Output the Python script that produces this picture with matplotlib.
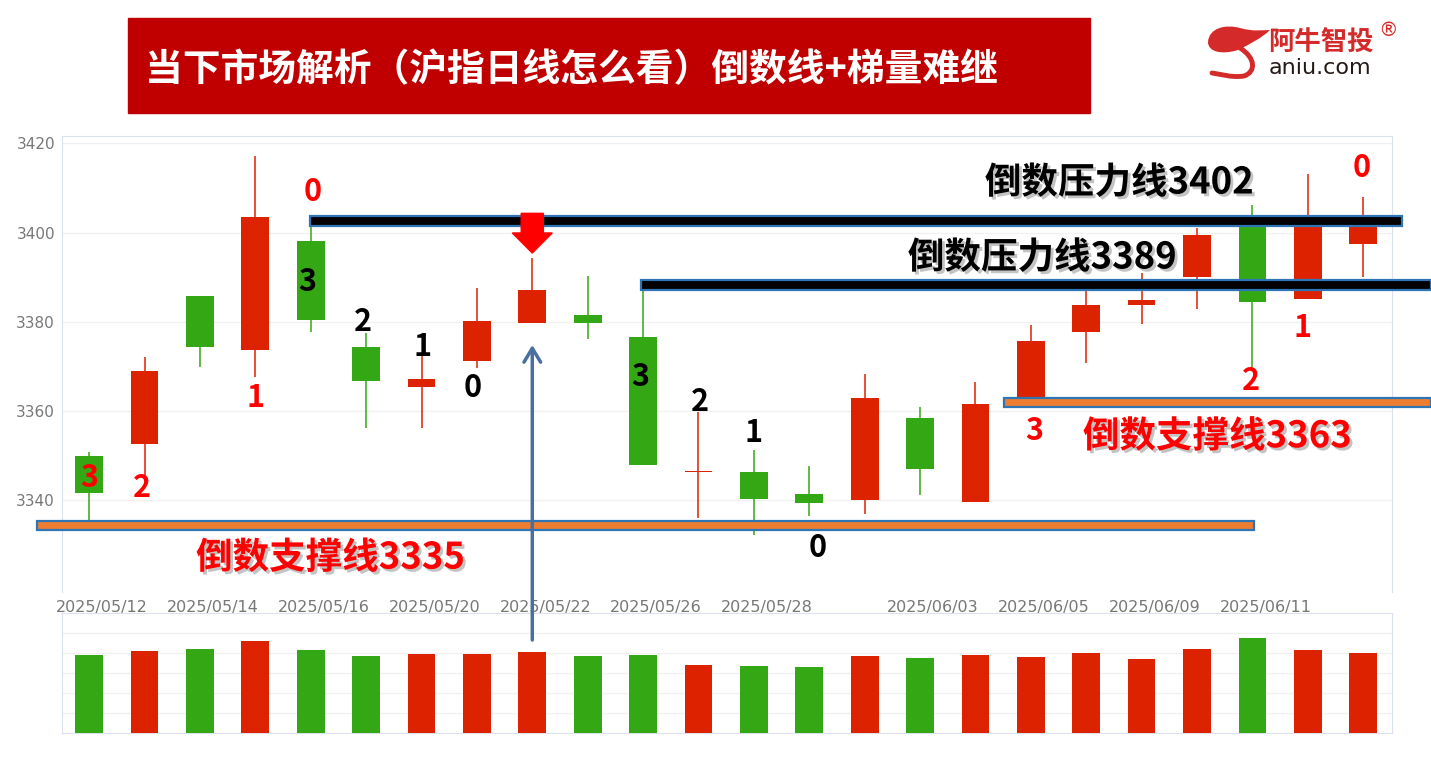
import matplotlib
matplotlib.use("Agg")
import matplotlib.pyplot as plt
import matplotlib.patheffects as pe
import matplotlib.transforms as mtransforms
from matplotlib.patches import Rectangle, ConnectionPatch
from matplotlib.path import Path
from matplotlib.patches import PathPatch

plt.rcParams['font.family'] = ['Noto Sans CJK SC', 'DejaVu Sans']

# daily candles (Shanghai index)
dates = ['2025/05/12', '2025/05/13', '2025/05/14', '2025/05/15', '2025/05/16',
         '2025/05/19', '2025/05/20', '2025/05/21', '2025/05/22', '2025/05/23',
         '2025/05/26', '2025/05/27', '2025/05/28', '2025/05/29', '2025/05/30',
         '2025/06/03', '2025/06/04', '2025/06/05', '2025/06/06', '2025/06/09',
         '2025/06/10', '2025/06/11', '2025/06/12', '2025/06/13']
opens = [3349.9, 3352.5, 3385.8, 3373.7, 3398.0, 3374.4, 3365.3, 3371.3, 3379.8, 3381.4,
         3376.6, 3346.2, 3346.2, 3341.4, 3340.0, 3358.4, 3339.5, 3363.0, 3377.8, 3383.7,
         3390.0, 3401.5, 3385.0, 3397.5]
closes = [3341.6, 3368.9, 3374.3, 3403.5, 3380.4, 3366.8, 3367.2, 3380.1, 3387.1, 3379.8,
          3347.9, 3346.5, 3340.2, 3339.3, 3363.0, 3346.9, 3361.5, 3375.7, 3383.8, 3384.8,
          3399.4, 3384.4, 3401.5, 3401.2]
highs = [3350.9, 3372.0, 3385.8, 3417.2, 3401.5, 3377.5, 3373.0, 3387.5, 3394.2, 3390.2,
         3388.6, 3359.8, 3351.2, 3347.6, 3368.3, 3360.9, 3366.5, 3379.3, 3388.0, 3391.0,
         3401.0, 3406.2, 3413.1, 3407.9]
lows = [3335.5, 3345.2, 3369.9, 3367.7, 3377.8, 3356.2, 3356.2, 3369.7, 3379.8, 3376.1,
        3347.9, 3336.0, 3332.1, 3336.4, 3337.0, 3341.2, 3339.5, 3363.0, 3370.8, 3379.6,
        3382.8, 3369.2, 3385.0, 3390.0]
volumes = [78, 82, 84, 92, 83, 77, 79, 79, 81, 77, 78, 68, 67, 66, 77, 75, 78, 76, 80, 74,
           84, 95, 83, 80]

shown_dates = ['2025/05/12', '2025/05/14', '2025/05/16', '2025/05/20', '2025/05/22',
               '2025/05/26', '2025/05/28', '2025/06/03', '2025/06/05', '2025/06/09',
               '2025/06/11']

# countdown numbers written on the chart
count_idx = [0.0, 0.96, 3.01, 4.04, 3.93, 4.95, 6.01, 6.93, 9.95, 11.02, 11.99, 13.16,
             17.06, 20.97, 21.91, 22.98]
count_val = [3345.0, 3342.7, 3362.9, 3409.0, 3389.0, 3380.0, 3374.4, 3365.1, 3367.6,
             3362.1, 3355.0, 3329.3, 3355.5, 3366.6, 3378.6, 3414.5]
count_txt = ['3', '2', '1', '0', '3', '2', '1', '0', '3', '2', '1', '0', '3', '2', '1', '0']
count_col = ['red'] * 4 + ['black'] * 8 + ['red'] * 4

# countdown pressure / support lines
line_levels = [3402.5, 3388.3, 3334.3, 3361.9]
line_start = [3.99, 9.96, -0.94, 16.52]
line_end = [23.70, 24.23, 21.03, 24.23]
line_face = ['black', 'black', '#ed7d31', '#ed7d31']
line_text = ['倒数压力线3402', '倒数压力线3389', '倒数支撑线3335', '倒数支撑线3363']
text_x = [16.17, 14.78, 1.93, 17.94]
text_y = [3411.1, 3394.3, 3327.0, 3354.2]
text_col = ['black', 'black', '#ff0000', '#ff0000']

RED = '#dd2200'
GREEN = '#34a814'
W, H = 1431, 759

fig = plt.figure(figsize=(14.31, 7.59), dpi=100)
ax = fig.add_axes([62 / W, 1 - 592 / H, 1330 / W, 456 / H])
axv = fig.add_axes([62 / W, 1 - 733 / H, 1330 / W, 120 / H])

n = len(opens)
colors = [RED if c >= o else GREEN for o, c in zip(opens, closes)]
for i in range(n):
    ax.vlines(i, lows[i], highs[i], color=colors[i], lw=1.1, zorder=2)
    body = max(abs(closes[i] - opens[i]), 0.35)
    ax.bar(i, body, bottom=min(opens[i], closes[i]), width=0.5, color=colors[i], zorder=3)
axv.bar(range(n), volumes, width=0.5, color=colors, zorder=3)

for a in (ax, axv):
    a.set_xlim(-0.49, 23.52)
    for s in a.spines.values():
        s.set_color('#dbe2ee')
    a.tick_params(length=0)
    a.grid(axis='y', color='#f1f1f1', lw=1)
    a.set_axisbelow(True)

ax.set_ylim(3319.4, 3421.64)
ax.set_yticks([3340, 3360, 3380, 3400, 3420])
ax.tick_params(axis='y', labelsize=11, labelcolor='#777777', pad=5)
for lab in ax.get_yticklabels():
    lab.set_fontfamily('DejaVu Sans')
ax.spines['bottom'].set_visible(False)
ax.set_xticks([dates.index(d) for d in shown_dates])
ax.set_xticklabels(shown_dates, fontsize=11.5, color='#777777', fontfamily='DejaVu Sans')
ax.tick_params(axis='x', pad=6)
shift = mtransforms.ScaledTranslation(13 / 100, 0, fig.dpi_scale_trans)
for lab in ax.get_xticklabels():
    lab.set_transform(lab.get_transform() + shift)

axv.set_ylim(0, 120)
axv.set_yticks([20, 40, 60, 80, 100])
axv.set_yticklabels([])
axv.set_xticks([])

# pressure / support bars
for lv, x0, x1, fc in zip(line_levels, line_start, line_end, line_face):
    ax.add_patch(Rectangle((x0, lv - 1.1), x1 - x0, 2.2, facecolor=fc, edgecolor='#2e75b6',
                           lw=1.6, clip_on=False, zorder=6))

shadow = [pe.SimplePatchShadow(offset=(2, -2), shadow_rgbFace='#888888', alpha=0.5), pe.Normal()]
for t, x, y, c in zip(line_text, text_x, text_y, text_col):
    ax.text(x, y, t, fontsize=26.3, fontweight='bold', color=c, ha='left', va='center',
            zorder=8, path_effects=shadow)

for x, y, t, c in zip(count_idx, count_val, count_txt, count_col):
    ax.text(x, y, t, fontsize=22, fontweight='bold', color='#ff0000' if c == 'red' else 'black',
            ha='center', va='center', zorder=8)

# red down arrow over the 05/22 candle
ax.arrow(8, 3404.3, 0, -8.9, width=0.4, head_width=0.72, head_length=4.5,
         length_includes_head=True, color='#ff0000', zorder=7, clip_on=False)

# blue up arrow from the volume bar
con = ConnectionPatch(xyA=(8, 93), coordsA=axv.transData, xyB=(8, 3374.8), coordsB=ax.transData,
                      arrowstyle='->,head_length=0.5,head_width=0.3', color='#4a6f9e', lw=2.5,
                      mutation_scale=20, zorder=9)
fig.add_artist(con)

# title banner
fig.add_artist(Rectangle((128 / W, 1 - 113 / H), 962 / W, 95 / H, transform=fig.transFigure,
                         color='#c00000', zorder=1))
fig.text(145 / W, 1 - 70 / H, '当下市场解析（沪指日线怎么看）倒数线+梯量难继', color='white',
         fontsize=27.2, fontweight='bold', ha='left', va='center', zorder=2)

# logo
def fp(x, y):
    return (x / W, 1 - y / H)

blob = Path([fp(1208, 42), fp(1209, 28), fp(1225, 24), fp(1240, 28), fp(1255, 32), fp(1262, 30),
             fp(1270, 30), fp(1262, 38), fp(1250, 44), fp(1238, 50), fp(1222, 55), fp(1208, 52),
             fp(1208, 42)],
            [Path.MOVETO, Path.CURVE4, Path.CURVE4, Path.CURVE4, Path.CURVE4, Path.CURVE4,
             Path.LINETO, Path.CURVE4, Path.CURVE4, Path.CURVE4, Path.CURVE4, Path.CURVE4,
             Path.CURVE4])
fig.add_artist(PathPatch(blob, transform=fig.transFigure, color='#d42a2a', lw=0))
tail = Path([fp(1240, 48), fp(1256, 58), fp(1256, 72), fp(1244, 76), fp(1232, 78), fp(1220, 74),
             fp(1212, 73)],
            [Path.MOVETO, Path.CURVE4, Path.CURVE4, Path.CURVE4, Path.CURVE4, Path.CURVE4,
             Path.CURVE4])
fig.add_artist(PathPatch(tail, transform=fig.transFigure, facecolor='none', edgecolor='#d42a2a',
                         lw=3.5, capstyle='round'))
fig.text(1268 / W, 1 - 43 / H, '阿牛智投', color='#d42a2a', fontsize=19, fontweight='bold',
         ha='left', va='center')
fig.text(1388 / W, 1 - 31 / H, '®', color='#d42a2a', fontsize=14, ha='center', va='center',
         fontfamily='DejaVu Sans')
fig.text(1269 / W, 1 - 68 / H, 'aniu.com', color='#231815', fontsize=16, ha='left', va='center',
         fontfamily='DejaVu Sans')

fig.savefig('out.png', dpi=100)
